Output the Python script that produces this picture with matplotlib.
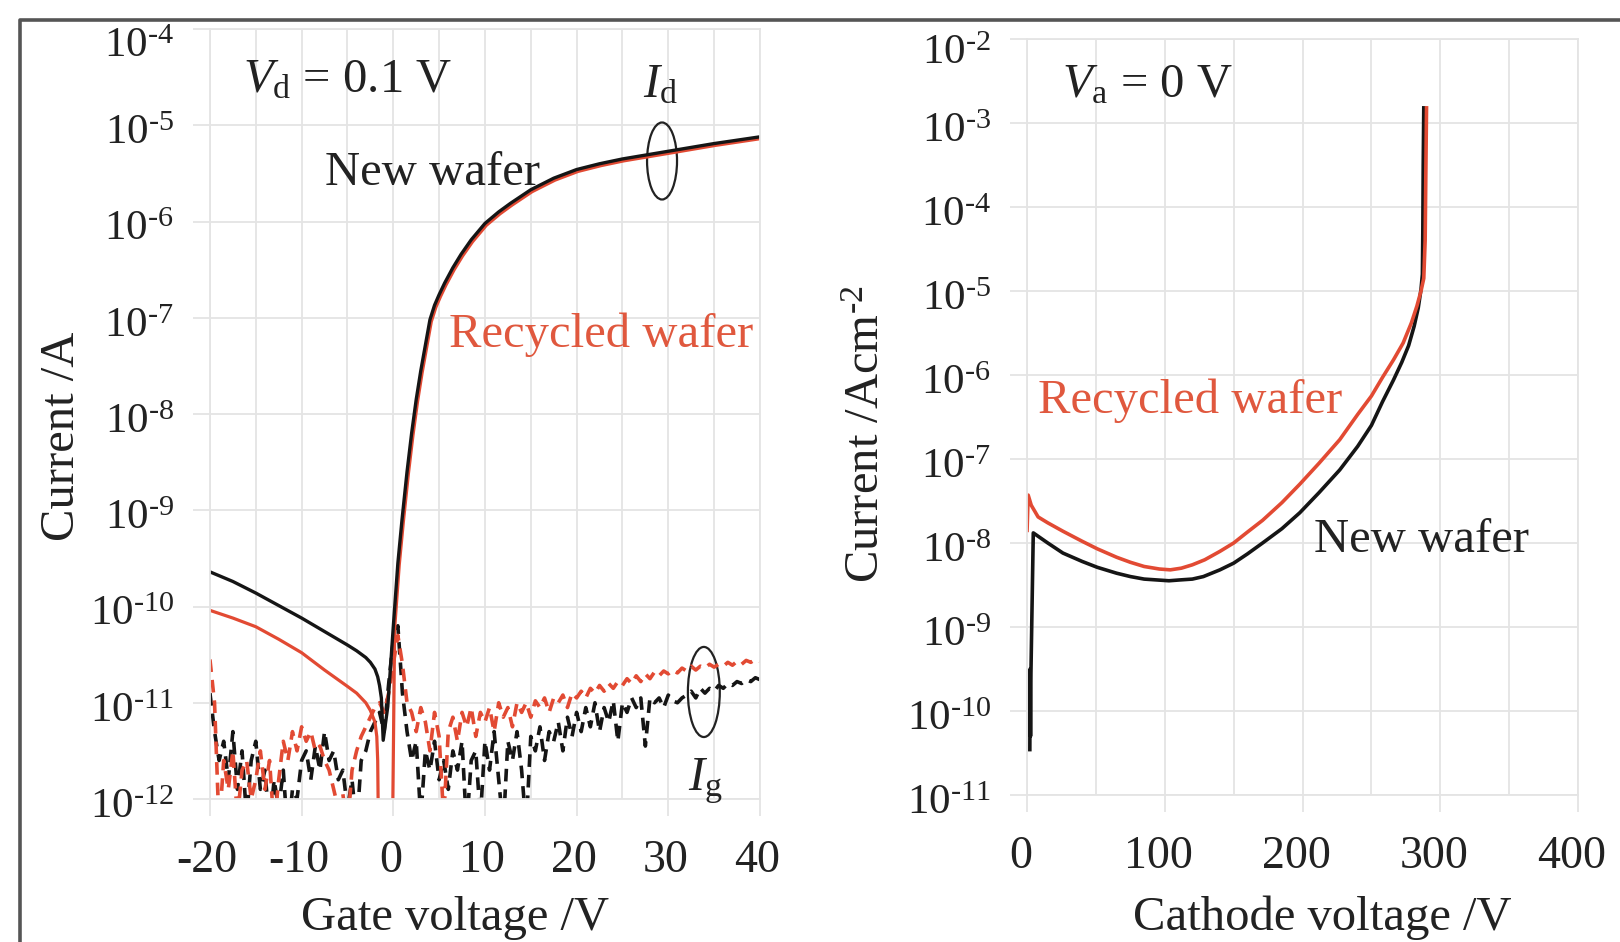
import numpy as np
import matplotlib
matplotlib.use('Agg')
import matplotlib.pyplot as plt
from matplotlib.patches import Ellipse
from matplotlib.lines import Line2D
from matplotlib.ticker import FixedLocator, NullLocator, FuncFormatter
from matplotlib.transforms import ScaledTranslation

plt.rcParams['font.family'] = ['Liberation Serif', 'DejaVu Serif']
plt.rcParams['mathtext.fontset'] = 'custom'
plt.rcParams['mathtext.rm'] = 'Liberation Serif'
plt.rcParams['mathtext.it'] = 'Liberation Serif:italic'
plt.rcParams['axes.unicode_minus'] = False

# ---- left panel: transfer curves (values are log10 of current)
id_new_vg = [-20, -17.5, -15, -12.5, -10, -7.5, -5, -4, -3, -2.5, -2, -1.7, -1.5, -1.3, -1.1,
             -0.6, 0.0, 0.5, 0.95, 1.5, 2.0, 2.5, 3.0, 4.0, 4.5, 5.0, 5.6, 6.5, 7.4, 8.5,
             10, 11.5, 12.8, 15, 17.5, 20, 22.5, 25, 27.5, 30, 35, 40]
id_new_exp = [-9.64, -9.74, -9.86, -9.99, -10.12, -10.26, -10.40, -10.46, -10.53, -10.58,
              -10.65, -10.73, -10.82, -10.95, -11.39, -11.04, -10.21, -9.55, -9.1, -8.6,
              -8.2, -7.85, -7.55, -7.02, -6.87, -6.76, -6.64, -6.48, -6.34, -6.19, -6.02,
              -5.9, -5.81, -5.67, -5.55, -5.46, -5.4, -5.35, -5.31, -5.27, -5.19, -5.12]

id_rec_vg = [-20, -17.5, -15, -12.5, -10, -7.5, -5, -4, -3, -2.5, -2.0, -1.8, -1.7, -1.6,
             -0.1, 0.15, 0.65, 1.1, 1.65, 2.15, 2.65, 3.15, 4.15, 4.65, 5.15, 5.75, 6.65,
             7.55, 8.65, 10.15, 11.65, 12.95, 15.15, 17.65, 20.15, 22.65, 25.15, 27.65,
             30.15, 35.1, 40]
id_rec_exp = [-10.04, -10.12, -10.21, -10.34, -10.48, -10.66, -10.83, -10.9, -11.0, -11.08,
              -11.2, -11.35, -11.6, -12.5, -12.5, -10.23, -9.57, -9.12, -8.62, -8.22, -7.87,
              -7.57, -7.04, -6.89, -6.78, -6.66, -6.5, -6.36, -6.21, -6.04, -5.92, -5.83,
              -5.69, -5.57, -5.48, -5.42, -5.37, -5.33, -5.29, -5.21, -5.14]

# gate leakage, sampled every 0.5 V from -20 V to 40 V
ig_vg = np.arange(-20, 40.25, 0.5)
ig_new_exp = [-10.9, -11.3, -11.6, -11.4, -11.8, -11.3, -11.9, -11.5, -12.2, -11.6,
              -11.4, -11.9, -11.7, -12.3, -11.8, -12.1, -11.7, -12.4, -11.9, -12.0,
              -11.6, -11.5, -11.8, -11.45, -11.7, -11.3, -11.6, -11.5, -11.8, -11.7,
              -12.1, -11.8, -12.3, -11.6, -11.5, -11.3, -11.2, -11.1, -11.3, -10.8,
              -10.35, -10.2, -10.9, -11.3, -11.6, -11.4, -12.2, -11.5, -11.7, -11.4,
              -11.8, -11.6, -11.9, -11.5, -11.7, -11.4, -12.3, -11.6, -11.5, -12.2,
              -11.4, -11.7, -11.3, -11.8, -12.3, -11.4, -11.6, -11.3, -11.7, -12.3,
              -11.35, -11.5, -11.25, -11.6, -11.3, -11.4, -11.2, -11.5, -11.15, -11.35,
              -11.1, -11.3, -11.05, -11.25, -11.0, -11.3, -11.05, -11.2, -10.98, -11.4,
              -11.0, -11.1, -10.95, -11.05, -10.95, -11.45, -10.95, -11.0, -10.95, -11.05,
              -10.92, -10.98, -11.0, -10.95, -10.92, -10.88, -10.95, -10.85, -10.9, -10.85,
              -10.88, -10.82, -10.85, -10.8, -10.82, -10.78, -10.8, -10.76, -10.78, -10.74,
              -10.76]
ig_rec_exp = [-10.55, -11.0, -12.3, -11.6, -11.9, -11.5, -12.2, -11.7, -11.6, -12.0,
              -11.8, -11.5, -11.9, -11.6, -12.3, -11.8, -11.4, -11.6, -11.3, -11.5,
              -11.25, -11.4, -11.3, -11.5, -11.45, -11.6, -11.7, -11.9, -12.1, -11.95,
              -12.3, -11.7, -11.5, -11.35, -11.25, -11.15, -11.05, -11.0, -11.1, -10.9,
              -10.6, -10.3, -10.6, -11.0, -11.1, -11.3, -11.05, -11.2, -11.5, -11.1,
              -11.35, -12.2, -11.3, -11.15, -11.4, -11.1, -11.25, -11.05, -11.35, -11.1,
              -11.2, -11.05, -11.3, -11.0, -11.15, -11.05, -11.25, -11.0, -11.1, -11.0,
              -11.15, -10.98, -11.05, -10.95, -11.1, -10.95, -11.0, -10.92, -11.05, -10.9,
              -10.95, -10.88, -10.95, -10.85, -10.9, -10.82, -10.88, -10.8, -10.85, -10.78,
              -10.82, -10.75, -10.8, -10.72, -10.78, -10.7, -10.75, -10.68, -10.72, -10.67,
              -10.7, -10.66, -10.69, -10.64, -10.67, -10.62, -10.66, -10.62, -10.64, -10.6,
              -10.63, -10.6, -10.62, -10.58, -10.61, -10.57, -10.6, -10.56, -10.58, -10.55,
              -10.57]

# ---- right panel: reverse characteristics
rv_new_v = [2.0, 2.2, 2.5, 2.8, 4.5, 8, 15, 26, 40, 51, 65, 75, 85, 94, 103, 111, 120, 128,
            140, 150, 160, 171, 185, 198, 212, 227, 240, 250, 258, 266, 272, 277, 281, 284,
            286, 287, 287.3, 287.6, 288]
rv_new_exp = [-10.46, -9.5, -10.3, -9.55, -7.88, -7.92, -8.0, -8.12, -8.22, -8.29, -8.36,
              -8.40, -8.43, -8.44, -8.45, -8.44, -8.43, -8.40, -8.32, -8.24, -8.13, -8.0,
              -7.83, -7.64, -7.40, -7.13, -6.85, -6.6, -6.32, -6.06, -5.85, -5.65, -5.42,
              -5.2, -4.98, -4.8, -4.3, -3.5, -2.82]
rv_rec_v = [0, 0.8, 3, 8, 15, 26, 40, 51, 65, 75, 85, 96, 104, 112, 120, 129, 140, 150, 160,
            171, 185, 198, 212, 227, 240, 250, 258, 266, 273, 279, 283, 286, 288, 289, 289.5,
            290]
rv_rec_exp = [-7.85, -7.43, -7.55, -7.69, -7.76, -7.86, -7.98, -8.07, -8.17, -8.23, -8.28,
              -8.31, -8.32, -8.30, -8.26, -8.20, -8.10, -8.0, -7.87, -7.73, -7.52, -7.30,
              -7.05, -6.77, -6.47, -6.25, -6.03, -5.82, -5.62, -5.38, -5.18, -5.0, -4.85,
              -4.4, -3.6, -2.82]

BLACK = '#151515'
RED = '#e24a33'
RED_TXT = '#e0583e'
GRID = '#e4e4e4'
TXT = '#222222'
FS = 35


def pow10(v):
    return 10.0 ** np.asarray(v, dtype=float)


def decade_label(v, pos):
    k = int(round(np.log10(v)))
    sign = r'\text{-}' if k < 0 else ''
    return r'$10^{%s%d}$' % (sign, abs(k))


def style_axes(ax, xmaj, xmin, ylo, yhi, xlim):
    ax.set_yscale('log')
    ax.set_xlim(*xlim)
    ax.set_ylim(10.0 ** ylo, 10.0 ** yhi)
    ax.yaxis.set_major_locator(FixedLocator([10.0 ** k for k in range(ylo, yhi + 1)]))
    ax.yaxis.set_minor_locator(NullLocator())
    ax.yaxis.set_major_formatter(FuncFormatter(decade_label))
    ax.set_xticks(xmaj)
    ax.set_xticks(xmin, minor=True)
    ax.grid(True, which='both', axis='x', color=GRID, lw=1.3)
    ax.grid(True, which='major', axis='y', color=GRID, lw=1.3)
    ax.set_axisbelow(True)
    for s in ax.spines.values():
        s.set_color(GRID)
        s.set_linewidth(1.3)
    ax.tick_params(which='major', length=12, width=1.3, color=GRID, labelcolor=TXT)
    ax.tick_params(which='minor', length=0)
    ax.tick_params(axis='x', labelsize=33, pad=17)
    ax.tick_params(axis='y', labelsize=31, pad=14)


def nudge(labels, dx, dy):
    # shift tick labels by a few pixels
    for lab in labels:
        lab.set_transform(lab.get_transform() +
                          ScaledTranslation(dx / 100, dy / 100, fig.dpi_scale_trans))


fig = plt.figure(figsize=(16.2, 9.42), dpi=100)
ax1 = fig.add_axes([0.1296, 0.1518, 0.3395, 0.8174])
ax2 = fig.add_axes([0.6340, 0.1561, 0.3401, 0.8025])

# left panel
style_axes(ax1, [-20, -10, 0, 10, 20, 30, 40], np.arange(-20, 41, 5), -12, -4, (-20, 40))
ax1.plot(ig_vg, pow10(ig_new_exp), color=BLACK, lw=2.6, dashes=(3.5, 2.2))
ax1.plot(ig_vg, pow10(ig_rec_exp), color=RED, lw=2.6, dashes=(3.5, 2.2))
ax1.plot(id_rec_vg, pow10(id_rec_exp), color=RED, lw=2.3)
ax1.plot(id_new_vg, pow10(id_new_exp), color=BLACK, lw=2.4)

ax1.text(-16.4, 10 ** -4.655, r'$V_{\mathrm{d}}$ = 0.1 V', fontsize=FS, color=TXT)
ax1.text(29.2, 10 ** -4.71, r'$I_{\mathrm{d}}$', fontsize=FS, color=TXT, ha='center')
ax1.text(-7.45, 10 ** -5.62, 'New wafer', fontsize=FS, color=TXT)
ax1.text(6.07, 10 ** -7.30, 'Recycled wafer', fontsize=FS, color=RED_TXT)
ax1.text(34.1, 10 ** -11.91, r'$I_{\mathrm{g}}$', fontsize=FS, color=TXT, ha='center')
ax1.add_patch(Ellipse((0.822, 0.8286), 0.0545, 0.10, transform=ax1.transAxes,
                      fill=False, ec=TXT, lw=1.6))
ax1.add_patch(Ellipse((0.898, 0.139), 0.058, 0.117, transform=ax1.transAxes,
                      fill=False, ec=TXT, lw=1.6))

# right panel
style_axes(ax2, [0, 100, 200, 300, 400], np.arange(0, 401, 50), -11, -2, (0, 400))
ax2.plot(rv_new_v, pow10(rv_new_exp), color=BLACK, lw=2.6)
ax2.plot(rv_rec_v, pow10(rv_rec_exp), color=RED, lw=2.6)
ax2.text(25.4, 10 ** -2.69, r'$V_{\mathrm{a}}$ = 0 V', fontsize=FS, color=TXT)
ax2.text(8, 10 ** -6.45, 'Recycled wafer', fontsize=FS, color=RED_TXT)
ax2.text(208, 10 ** -8.11, 'New wafer', fontsize=FS, color=TXT)

# axis titles
fig.text(455 / 1620, 12 / 942, 'Gate voltage /V', fontsize=FS, ha='center', va='baseline',
         color=TXT)
fig.text(1322 / 1620, 12 / 942, 'Cathode voltage /V', fontsize=FS, ha='center',
         va='baseline', color=TXT)
fig.text(62 / 1620, 1 - 436 / 942, 'Current /A', fontsize=FS, rotation=90, ha='center',
         va='center', color=TXT)
fig.text(867 / 1620, 1 - 434 / 942, r'Current /Acm$^{\text{-}2}$', fontsize=FS, rotation=90,
         ha='center', va='center', color=TXT)

# frame around the figure
fig.add_artist(Line2D([20 / 1620, 20 / 1620, 1.0], [0.0, 1 - 20 / 942, 1 - 20 / 942],
                      transform=fig.transFigure, color='#555555', lw=2.6))

# small label offsets, done after a first draw so the tick objects exist
fig.canvas.draw()
for ax, top_extra, dxx in ((ax1, 9, -3), (ax2, 6, -6)):
    ylabs = ax.yaxis.get_majorticklabels()
    nudge(ylabs[:-1], 0, -4)
    nudge(ylabs[-1:], 0, -4 - top_extra)
    nudge(ax.xaxis.get_majorticklabels(), dxx, 0)

fig.savefig('out.png', dpi=100)
